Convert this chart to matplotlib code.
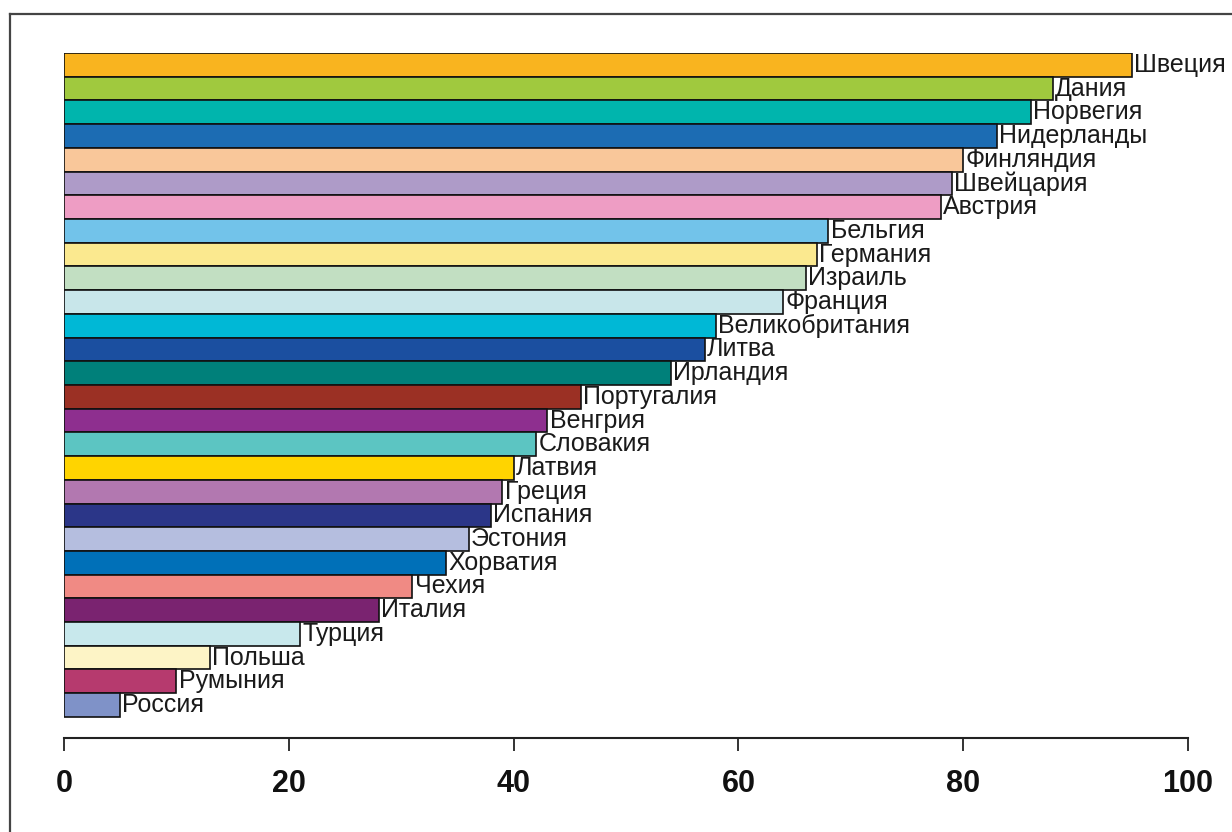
import matplotlib
matplotlib.use('Agg')  # Non-interactive backend
import matplotlib.pyplot as plt
from matplotlib.lines import Line2D

# Countries top to bottom, with values (0-100 scale)
countries = ["Швеция", "Дания", "Норвегия", "Нидерланды", "Финляндия", "Швейцария",
             "Австрия", "Бельгия", "Германия", "Израиль", "Франция", "Великобритания",
             "Литва", "Ирландия", "Португалия", "Венгрия", "Словакия", "Латвия",
             "Греция", "Испания", "Эстония", "Хорватия", "Чехия", "Италия",
             "Турция", "Польша", "Румыния", "Россия"]
values = [95, 88, 86, 83, 80, 79,
          78, 68, 67, 66, 64, 58,
          57, 54, 46, 43, 42, 40,
          39, 38, 36, 34, 31, 28,
          21, 13, 10, 5]
colors = ["#F9B41F", "#A0C93E", "#00B5AD", "#1C6CB3", "#F9C79A", "#AE9BC8",
          "#EE9DC4", "#72C3EA", "#FBE98F", "#C2DFC2", "#C8E6EA", "#00B8D6",
          "#1B4FA0", "#00807A", "#9B3024", "#8E2F8F", "#5CC5C2", "#FFD400",
          "#B278B0", "#2B3688", "#B5BEDF", "#0070B8", "#F08A84", "#7A2370",
          "#C8E8EC", "#FDF4C6", "#B63A6E", "#7F92C8"]
xticks = [0, 20, 40, 60, 80, 100]

n = len(countries)
ypos = [n - 1 - i for i in range(n)]

fig = plt.figure(figsize=(12.32, 8.32), dpi=100)
ax = fig.add_axes([64 / 1232, 1 - 738 / 832, (1188 - 64) / 1232, (738 - 53) / 832])

ax.barh(ypos, values, height=1.0, color=colors, edgecolor="#111111", linewidth=1.2)

for y, v, name in zip(ypos, values, countries):
    ax.text(v + 0.2, y, name, ha="left", va="center", fontsize=18,
            family=["Liberation Sans", "DejaVu Sans"], color="#1a1a1a")

ax.set_xlim(0, 100)
ax.set_ylim(-1.39, n - 0.5)
ax.set_xticks(xticks)
ax.set_yticks([])
for s in ["left", "top", "right"]:
    ax.spines[s].set_visible(False)
ax.spines["bottom"].set_linewidth(1.5)
ax.spines["bottom"].set_color("#222222")
ax.tick_params(axis="x", direction="out", length=9, width=1.2, pad=13, colors="#111111")
for lab in ax.get_xticklabels():
    lab.set_fontfamily(["Liberation Sans Narrow", "Liberation Sans", "DejaVu Sans"])
    lab.set_fontweight("bold")
    lab.set_fontsize(22)

# outer frame (cut off at right and bottom)
fig.add_artist(Line2D([10 / 1232, 10 / 1232], [0, 1 - 14 / 832], transform=fig.transFigure,
                      color="#444444", linewidth=1.6))
fig.add_artist(Line2D([10 / 1232, 1], [1 - 14 / 832, 1 - 14 / 832], transform=fig.transFigure,
                      color="#444444", linewidth=1.6))

fig.savefig("out.png", dpi=100)
plt.close(fig)
